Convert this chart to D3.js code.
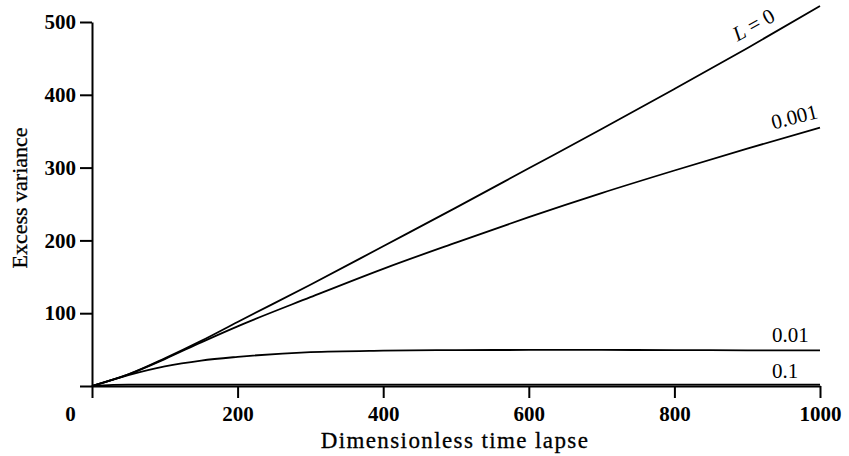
<!DOCTYPE html>
<html>
<head>
<meta charset="utf-8">
<script src="https://cdn.jsdelivr.net/npm/d3@7"></script>
<style>
    body { margin: 0; background: #fff; }
    svg text { font-family: "Liberation Serif", "Times New Roman", serif; fill: #000; }
</style>
</head>
<body>
<svg id="chart" width="849" height="456"></svg>
<script>
// values
const timeLapse = [0, 50, 100, 150, 200, 300, 400, 500, 600, 700, 800, 900, 1000];
const varL0     = [0, 16, 38, 62, 88, 139, 192, 245, 299, 353, 408, 464, 522];
const varL0001  = [0, 16, 37, 60, 82, 122, 161, 197, 232, 265, 296, 326, 355];
const varL001   = [0, 15, 27, 35, 40, 46.5, 48.5, 49.3, 49.5, 49.5, 49.3, 49, 48.8];
const varL01    = [0, 2, 2, 2, 2, 2, 2, 2, 2, 2, 2, 2, 2];
const xTicks = [0, 200, 400, 600, 800, 1000];
const yTicks = [0, 100, 200, 300, 400, 500];

const svg = d3.select('#chart');

const x = d3.scaleLinear().domain([0, 1000]).range([92, 820]);
const y = d3.scaleLinear().domain([0, 500]).range([386, 22]);

// axes
const xAxis = svg.append('g')
    .attr('transform', `translate(0,${y(0)})`)
    .call(d3.axisBottom(x).tickValues(xTicks).tickFormat(d3.format('d'))
        .tickSize(12).tickSizeOuter(0).tickPadding(8));

const yAxis = svg.append('g')
    .attr('transform', `translate(${x(0)},0)`)
    .call(d3.axisLeft(y).tickValues(yTicks).tickFormat(d3.format('d'))
        .tickSize(12).tickSizeOuter(0).tickPadding(4));

[xAxis, yAxis].forEach(a => {
    a.attr('font-family', null).attr('font-size', null);
    a.selectAll('path, line').style('stroke', '#000').style('stroke-width', 2);
    a.selectAll('text').style('font-size', '21px').style('font-weight', 'bold');
});
yAxis.selectAll('.tick').filter(d => d === 0).select('text').remove();
xAxis.selectAll('.tick').filter(d => d === 0).select('text').attr('dx', -22);

// axis titles
svg.append('text')
    .attr('x', 455).attr('y', 448)
    .attr('text-anchor', 'middle')
    .style('font-size', '23px')
    .style('letter-spacing', '1.4px')
    .style('stroke', '#000').style('stroke-width', 0.3)
    .text('Dimensionless time lapse');

svg.append('text')
    .attr('transform', 'translate(27,198) rotate(-90)')
    .attr('text-anchor', 'middle')
    .style('font-size', '22px')
    .style('stroke', '#000').style('stroke-width', 0.3)
    .text('Excess variance');

// curves
const series = [
    { name: 'L0', values: varL0 },
    { name: 'L0001', values: varL0001 },
    { name: 'L001', values: varL001 },
    { name: 'L01', values: varL01 }
];

const line = d3.line()
    .x((d, i) => x(timeLapse[i]))
    .y(d => y(d))
    .curve(d3.curveMonotoneX);

svg.append('g').selectAll('path')
    .data(series)
    .enter().append('path')
    .attr('d', d => line(d.values))
    .style('fill', 'none')
    .style('stroke', '#000')
    .style('stroke-width', 1.8);

// curve labels
const lab0 = svg.append('text')
    .attr('transform', 'translate(757,31) rotate(-29)')
    .attr('text-anchor', 'middle')
    .style('font-size', '21px');
lab0.append('tspan').style('font-style', 'italic').text('L');
lab0.append('tspan').text(' = 0');

svg.append('text')
    .attr('transform', 'translate(819,118) rotate(-14)')
    .attr('text-anchor', 'end')
    .style('font-size', '21px')
    .text('0.001');

svg.append('text')
    .attr('x', 772).attr('y', 342)
    .style('font-size', '21px')
    .text('0.01');

svg.append('text')
    .attr('x', 772).attr('y', 378)
    .style('font-size', '21px')
    .text('0.1');
</script>
</body>
</html>
